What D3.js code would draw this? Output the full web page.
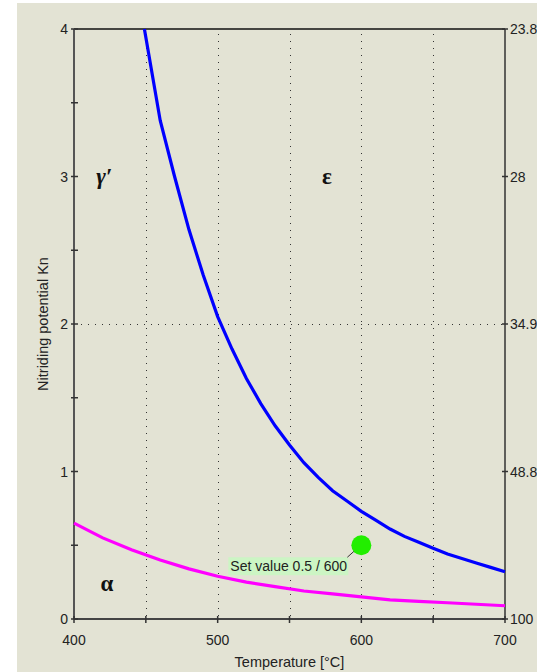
<!DOCTYPE html>
<html>
<head>
<meta charset="utf-8">
<script src="https://cdn.jsdelivr.net/npm/d3@7"></script>
<style>
html,body{margin:0;padding:0;background:#fff;}
svg{display:block;}
text{font-family:"Liberation Sans",Arial,sans-serif;fill:#222;}
</style>
</head>
<body>
<svg id="c" width="537" height="672"></svg>
<script>
// ---- data ----
const epsilonTemp = [449,460,470,480,490,500,510,520,530,540,550,560,570,580,590,600,610,620,630,640,650,660,670,680,690,700];
const epsilonKn   = [4.0,3.38,3.0,2.64,2.33,2.05,1.83,1.63,1.46,1.31,1.18,1.06,0.96,0.87,0.80,0.73,0.67,0.61,0.56,0.52,0.48,0.44,0.41,0.38,0.35,0.32];
const alphaTemp = [400,420,440,460,480,500,520,540,560,580,600,620,640,660,680,700];
const alphaKn   = [0.65,0.55,0.47,0.40,0.34,0.29,0.25,0.22,0.19,0.17,0.15,0.13,0.12,0.11,0.10,0.09];
const xTickLabels = [400,500,600,700];
const xTicks = [400,450,500,550,600,650,700];
const yTickLabels = [0,1,2,3,4];
const yMinorTicks = [0,0.5,1,1.5,2,2.5,3,3.5,4];
const rightLabels = ["100","48.8","34.9","28","23.8"];
const setPoint = {temp:600, kn:0.5, label:"Set value 0.5 / 600"};
const phases = [{name:"\u03B3\u2032", temp:421, kn:3.0, italic:true},{name:"\u03B5", temp:576, kn:3.0, italic:false},{name:"\u03B1", temp:423, kn:0.24, italic:false}];

// ---- layout ----
const svg = d3.select("#c");
svg.append("rect").attr("x",17).attr("y",3).attr("width",520).attr("height",669).attr("fill","#e3e3d4");
const L=74, R=505, T=29, B=619;
const x = d3.scaleLinear().domain([400,700]).range([L,R]);
const y = d3.scaleLinear().domain([0,4]).range([B,T]);

// grid
const g = svg.append("g");
g.selectAll(".vg").data([450,500,550,600,650]).enter().append("line")
  .attr("x1",d=>Math.round(x(d))+0.5).attr("x2",d=>Math.round(x(d))+0.5)
  .attr("y1",T+5).attr("y2",B)
  .attr("stroke","#333").attr("stroke-width",1).attr("stroke-dasharray","1,6");
g.append("line").attr("x1",L).attr("x2",R).attr("y1",Math.round(y(2))+0.5).attr("y2",Math.round(y(2))+0.5)
  .attr("stroke","#333").attr("stroke-width",1).attr("stroke-dasharray","1,6");

// frame
svg.append("line").attr("x1",L).attr("x2",R).attr("y1",T).attr("y2",T).attr("stroke","#111").attr("stroke-width",1.5);
svg.append("line").attr("x1",L).attr("x2",L).attr("y1",T).attr("y2",B).attr("stroke","#555").attr("stroke-width",2);
svg.append("line").attr("x1",R).attr("x2",R).attr("y1",T).attr("y2",B).attr("stroke","#333").attr("stroke-width",1.5);
svg.append("line").attr("x1",L).attr("x2",R).attr("y1",B).attr("y2",B).attr("stroke","#444").attr("stroke-width",2);

// ticks
svg.selectAll(".xt").data(xTicks).enter().append("line")
  .attr("x1",d=>x(d)).attr("x2",d=>x(d)).attr("y1",B-3).attr("y2",B+4).attr("stroke","#333").attr("stroke-width",1.5);
svg.selectAll(".xl").data(xTickLabels).enter().append("text")
  .attr("x",d=>x(d)).attr("y",B+26).attr("text-anchor","middle").attr("font-size",14).text(d=>d);
svg.selectAll(".yt").data(yMinorTicks).enter().append("line")
  .attr("x1",L-3).attr("x2",L+4).attr("y1",d=>y(d)).attr("y2",d=>y(d)).attr("stroke","#333").attr("stroke-width",1.5);
svg.selectAll(".yl").data(yTickLabels).enter().append("text")
  .attr("x",L-6).attr("y",d=>y(d)+5).attr("text-anchor","end").attr("font-size",14).text(d=>d);
svg.selectAll(".rt").data(yTickLabels).enter().append("line")
  .attr("x1",R-3).attr("x2",R+3).attr("y1",d=>y(d)).attr("y2",d=>y(d)).attr("stroke","#333").attr("stroke-width",1.5);
svg.selectAll(".rl").data(yTickLabels).enter().append("text")
  .attr("x",R+5).attr("y",d=>y(d)+5).attr("text-anchor","start").attr("font-size",14).text((d,i)=>rightLabels[i]);

// axis titles
svg.append("text").attr("x",(L+R)/2).attr("y",667).attr("text-anchor","middle").attr("font-size",14.5).text("Temperature [\u00B0C]");
svg.append("text").attr("transform","translate(48,"+((T+B)/2)+") rotate(-90)").attr("text-anchor","middle").attr("font-size",14.5).text("Nitriding potential Kn");

// curves
const line = d3.line().x(d=>x(d[0])).y(d=>y(d[1]));
svg.append("path").datum(alphaTemp.map((t,i)=>[t,alphaKn[i]])).attr("d",line)
  .attr("fill","none").attr("stroke","#ff00ff").attr("stroke-width",3.2);
svg.append("path").datum(epsilonTemp.map((t,i)=>[t,epsilonKn[i]])).attr("d",line)
  .attr("fill","none").attr("stroke","#0000ff").attr("stroke-width",3.2);

// phase labels
svg.selectAll(".ph").data(phases).enter().append("text")
  .attr("x",d=>x(d.temp)).attr("y",d=>y(d.kn)+7).attr("text-anchor","middle")
  .style("font-family","'Liberation Serif','Times New Roman',serif").attr("font-weight","bold")
  .attr("font-style",d=>d.italic?"italic":"normal").attr("font-size",23).style("fill","#111").text(d=>d.name);

// set point
const px = x(setPoint.temp), py = y(setPoint.kn);
svg.append("rect").attr("x",px-133).attr("y",py+12).attr("width",120).attr("height",18).attr("fill","#ccf5c4");
svg.append("text").attr("x",px-131).attr("y",py+26).attr("font-size",14).attr("fill","#222").text(setPoint.label);
svg.append("line").attr("x1",px-14).attr("y1",py+12).attr("x2",px-4).attr("y2",py+3).attr("stroke","#333").attr("stroke-width",1);
svg.append("circle").attr("cx",px).attr("cy",py).attr("r",10).attr("fill","#22ee00");
</script>
</body>
</html>
